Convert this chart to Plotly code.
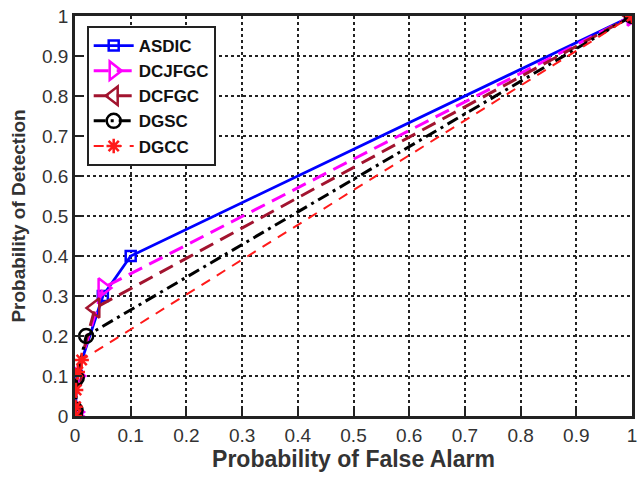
import plotly.graph_objects as go

# Data
asdic_x = [0, 0.001, 0.003, 0.05, 0.1, 1]
asdic_y = [0, 0.01, 0.1, 0.3, 0.4, 1]
dcjfgc_x = [0, 0.001, 0.003, 0.05, 1]
dcjfgc_y = [0, 0.01, 0.1, 0.32, 1]
dcfgc_x = [0, 0.001, 0.003, 0.036, 1]
dcfgc_y = [0, 0.01, 0.1, 0.27, 1]
dgsc_x = [0, 0.001, 0.003, 0.02, 1]
dgsc_y = [0, 0.015, 0.095, 0.2, 1]
dgcc_x = [0, 0.001, 0.002, 0.005, 0.012, 1]
dgcc_y = [0, 0.023, 0.065, 0.11, 0.14, 1]

tick_vals = [0, 0.1, 0.2, 0.3, 0.4, 0.5, 0.6, 0.7, 0.8, 0.9, 1]
tick_text = ["0", "0.1", "0.2", "0.3", "0.4", "0.5", "0.6", "0.7", "0.8", "0.9", "1"]

series = [
    ("ASDIC", asdic_x, asdic_y, "#0000FF", "solid", "square-open", 10, 2.8),
    ("DCJFGC", dcjfgc_x, dcjfgc_y, "#FF00FF", "15px,8px", "triangle-right-open", 17, 3),
    ("DCFGC", dcfgc_x, dcfgc_y, "#A2142F", "15px,8px", "triangle-left-open", 17, 3),
    ("DGSC", dgsc_x, dgsc_y, "#000000", "12px,5px,3px,5px", "circle-open", 14, 3),
    ("DGCC", dgcc_x, dgcc_y, "#FF1A1A", "10px,8px", "asterisk-open", 12, 2.0),
]

fig = go.Figure()
for name, x, y, color, dash, sym, size, lw in series:
    fig.add_trace(go.Scatter(
        x=x, y=y, name="<b>" + name + "</b>", mode="lines+markers",
        line=dict(color=color, width=lw, dash=dash),
        marker=dict(symbol=sym, size=size, color=color,
                    line=dict(color=color, width=2.5)),
    ))

axis_common = dict(
    range=[0, 1], tickvals=tick_vals, ticktext=tick_text,
    showgrid=True, gridcolor="#222222", griddash="dot", gridwidth=2,
    showline=True, linecolor="#222222", linewidth=2.5, mirror=True,
    ticks="inside", ticklen=7, tickwidth=2, tickcolor="#222222",
    zeroline=False,
    tickfont=dict(family="Liberation Sans, Arial", size=19, color="#333333"),
    tickprefix="<b>", ticksuffix="</b>",
)

fig.update_layout(
    width=643, height=481,
    margin=dict(l=75, r=6, t=15, b=65),
    paper_bgcolor="white", plot_bgcolor="white",
    font=dict(family="Liberation Sans, Arial", color="#333333"),
    xaxis=dict(**axis_common,
               title=dict(text="<b>Probability of False Alarm</b>",
                          font=dict(size=23, color="#333333"), standoff=6)),
    yaxis=dict(**axis_common,
               title=dict(text="<b>Probability of Detection</b>",
                          font=dict(size=19, color="#333333"), standoff=12)),
    legend=dict(x=0.021, y=0.975, xanchor="left", yanchor="top",
                bgcolor="white", bordercolor="#222222", borderwidth=2,
                font=dict(size=17, color="#111111", family="Liberation Sans, Arial"),
                tracegroupgap=0, itemwidth=40),
    showlegend=True,
)

fig.write_html("out.html")
